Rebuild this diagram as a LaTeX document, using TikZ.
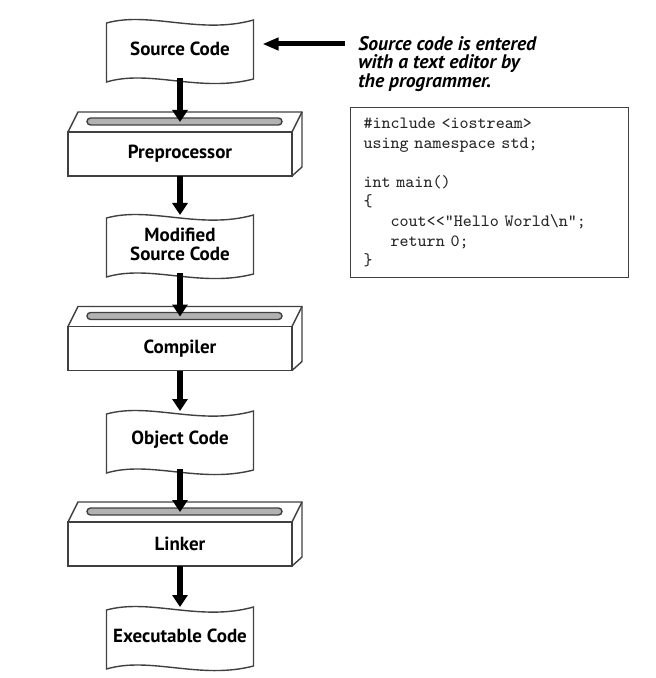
\documentclass[tikz,border=0pt]{standalone}
\usepackage{fontspec}
\setsansfont{PT Sans}
\usetikzlibrary{arrows.meta,calc,positioning}

\begin{document}
\begin{tikzpicture}[x=0.5pt,y=-0.5pt,
    outline/.style={draw=black!75,line width=0.7pt},
    label/.style={font=\sffamily\bfseries\fontsize{9.5}{9.5}\selectfont},
    doc/.style={label,minimum width=73.5pt,minimum height=29pt,
      inner sep=0pt,outer sep=0pt,align=center},
    stage/.style={label,outline,fill=white,minimum width=112pt,
      minimum height=22pt,inner sep=0pt,outer sep=0pt},
    flow/.style={line width=3pt,-{Triangle[length=6pt,width=7.5pt]}},
    pointer/.style={line width=2.5pt,-{Triangle[length=8pt,width=6pt]}}
  ]

    \useasboundingbox (0,0) rectangle (655,678);

    % the chain of files and tools
    \node[doc] (src) at (180,49) {Source Code};
    \node[stage] (pre) at (180,154) {Preprocessor};
    \node[doc] (mod) at (180,244) {Modified\\Source Code};
    \node[stage] (comp) at (180,348.5) {Compiler};
    \node[doc] (obj) at (180,440) {Object Code};
    \node[stage] (link) at (180,544) {Linker};
    \node[doc] (exe) at (180,636) {Executable Code};

    % wavy sheets
    \foreach \d in {src,mod,obj,exe}{
      \begin{scope}[shift={(\d.center)}]
        \draw[outline]
        (-73.5,-26) .. controls (-30,-38) and (20,-14) .. (73.5,-29)
        -- (73.5,30) .. controls (20,44) and (-30,20) .. (-73.5,33)
        -- cycle;
      \end{scope}
    }

    % boxes with a slot on top
    \foreach \s in {pre,comp,link}{
      \draw[outline] (\s.north west) -- ++(10,-20) -- ++(224,0)
      -- ++(0,55) -- (\s.south east);
      \draw[outline] (\s.north east) -- ++(10,-20);
      \filldraw[outline,fill=black!30,rounded corners=1.75pt]
      ($(\s.north west)+(19,-14)$) rectangle ($(\s.north west)+(214,-7)$);
      \coordinate (\s-slot) at ($(\s.north)+(0,-10)$);
    }

    \draw[flow] (src.south) -- (pre-slot);
    \draw[flow] (pre.south) -- (mod.north);
    \draw[flow] (mod.south) -- (comp-slot);
    \draw[flow] (comp.south) -- (obj.north);
    \draw[flow] (obj.south) -- (link-slot);
    \draw[flow] (link.south) -- (exe.north);

    % note and listing
    \node[anchor=north west,align=left,inner sep=0pt,
      font=\sffamily\bfseries\itshape\fontsize{9.8}{9.25}\selectfont]
    (note) at (358,36)
    {Source code is entered\\
      with a text editor by\\
      the programmer.};

    \draw[pointer] ($(note.north west)+(-13,8)$)
    -- ($(note.north west -| src.east)+(9,8)$);

    \node[draw=black!75,line width=0.6pt,anchor=north west,
      minimum width=139pt,minimum height=85pt,inner xsep=6.5pt,
      text width=126pt,align=left,text=black!85,
      font=\ttfamily\fontsize{8.6}{9.8}\selectfont]
    (code) at (350,107)
    {\#include <iostream>\\
      using namespace std;\\
      \mbox{}\\
      int main()\\
      \{\\
      \hspace*{13.5pt}cout<{}<"Hello World\textbackslash n";\\
      \hspace*{13.5pt}return 0;\\
      \}};

  \end{tikzpicture}
\end{document}
